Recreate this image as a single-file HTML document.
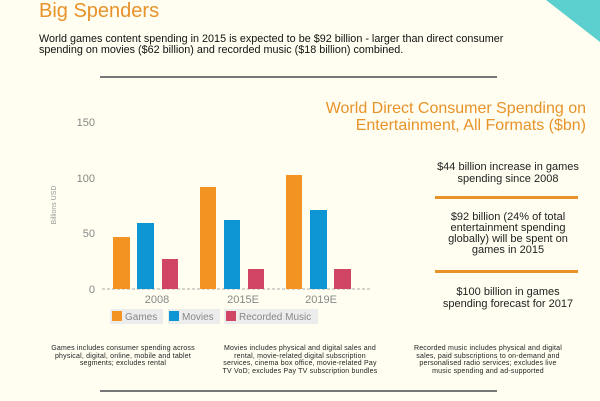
<!DOCTYPE html>
<html><head><meta charset="utf-8"><style>
body{margin:0;background:#fffef0;width:600px;height:401px;overflow:hidden;position:relative;font-family:"Liberation Sans",sans-serif}
div{position:absolute}
.ft{font-size:7px;letter-spacing:0.2px;color:#222;line-height:7.5px;text-align:center;width:200px;white-space:nowrap}
.rt{font-size:11px;color:#222;line-height:12px;text-align:center;width:170px;left:423px;white-space:nowrap}
.ol{height:3px;background:#e8922a;left:435px;width:143px}
</style></head><body>
<svg width="600" height="401" style="position:absolute;left:0;top:0">
<polygon points="546,0 600,0 600,42" fill="#5ccfcf"/>
<rect x="100" y="76" width="397" height="2" fill="#777"/>
<rect x="100" y="390" width="397" height="2" fill="#777"/>
<g font-family="Liberation Sans" font-size="11" fill="#888" text-anchor="end">
<text x="95" y="126">150</text><text x="95" y="182">100</text><text x="95" y="237">50</text><text x="95" y="293">0</text>
</g>
<text transform="translate(56,205) rotate(-90)" font-family="Liberation Sans" font-size="7" fill="#999" text-anchor="middle">Billions USD</text>
<line x1="102" y1="289" x2="372" y2="289" stroke="#aaa" stroke-dasharray="3,2"/>
<g fill="#f39321">
<rect x="113" y="237" width="17" height="52"/><rect x="200" y="187" width="16" height="102"/><rect x="286" y="175" width="16" height="114"/></g>
<g fill="#0d95d4">
<rect x="137" y="223" width="17" height="66"/><rect x="224" y="220" width="16" height="69"/><rect x="310" y="210" width="17" height="79"/></g>
<g fill="#d14564">
<rect x="162" y="259" width="16" height="30"/><rect x="248" y="269" width="16" height="20"/><rect x="334" y="269" width="17" height="20"/></g>
<g font-family="Liberation Sans" font-size="11" fill="#888" text-anchor="middle">
<text x="157" y="303">2008</text><text x="243" y="303">2015E</text><text x="321" y="303">2019E</text></g>
<rect x="110" y="309" width="53" height="15" fill="#ececec"/>
<rect x="168" y="309" width="52" height="15" fill="#ececec"/>
<rect x="224" y="309" width="94" height="15" fill="#ececec"/>
<rect x="112" y="311" width="10" height="10" fill="#f39321"/>
<rect x="169" y="311" width="10" height="10" fill="#0d95d4"/>
<rect x="226" y="311" width="10" height="10" fill="#d14564"/>
<g font-family="Liberation Sans" font-size="10" fill="#888">
<text x="125" y="320">Games</text><text x="182" y="320">Movies</text><text x="239" y="320">Recorded Music</text></g>
</svg>
<div style="left:39px;top:0px;font-size:20px;color:#e8922a">Big Spenders</div>
<div style="left:39px;top:34px;font-size:10.8px;line-height:10.5px;color:#111;white-space:nowrap">World games content spending in 2015 is expected to be $92 billion - larger than direct consumer<br>spending on movies ($62 billion) and recorded music ($18 billion) combined.</div>
<div style="left:300px;width:286px;top:100px;text-align:right;font-size:16px;line-height:17px;color:#e8922a">World Direct Consumer Spending on Entertainment, All Formats ($bn)</div>
<div class="rt" style="top:161px">$44 billion increase in games<br>spending since 2008</div>
<div class="ol" style="top:196px"></div>
<div class="rt" style="top:212px;line-height:11px">$92 billion (24% of total<br>entertainment spending<br>globally) will be spent on<br>games in 2015</div>
<div class="ol" style="top:270px"></div>
<div class="rt" style="top:286px">$100 billion in games<br>spending forecast for 2017</div>
<div class="ft" style="left:23px;top:345px">Games includes consumer spending across<br>physical, digital, online, mobile and tablet<br>segments; excludes rental</div>
<div class="ft" style="left:200px;top:345px">Movies includes physical and digital sales and<br>rental, movie-related digital subscription<br>services, cinema box office, movie-related Pay<br>TV VoD; excludes Pay TV subscription bundles</div>
<div class="ft" style="left:388px;top:345px">Recorded music includes physical and digital<br>sales, paid subscriptions to on-demand and<br>personalised radio services; excludes live<br>music spending and ad-supported</div>
</body></html>
